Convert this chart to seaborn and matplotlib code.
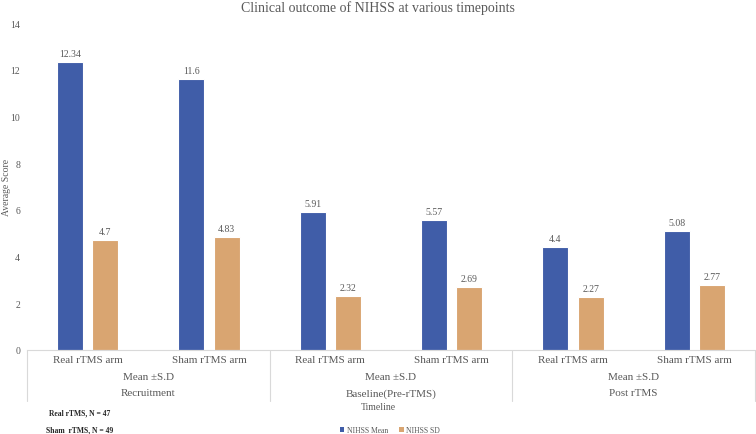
import matplotlib
matplotlib.use("Agg")
import matplotlib.pyplot as plt
import pandas as pd
import seaborn as sns
from matplotlib.patches import Patch

timepoints = ["Recruitment", "Baseline(Pre-rTMS)", "Post rTMS"]
arms = ["Real rTMS arm", "Sham rTMS arm"]
nihss_mean = [12.34, 11.6, 5.91, 5.57, 4.4, 5.08]
nihss_sd = [4.7, 4.83, 2.32, 2.69, 2.27, 2.77]
series = ["NIHSS Mean", "NIHSS SD"]
colors = ["#405da8", "#d9a571"]
y_ticks = [0, 2, 4, 6, 8, 10, 12, 14]
notes = ["Real rTMS, N = 47", "Sham  rTMS, N = 49"]

slots = [f"{t}|{a}" for t in timepoints for a in arms]
df = pd.DataFrame({
    "slot": slots * 2,
    "series": [series[0]] * len(slots) + [series[1]] * len(slots),
    "value": nihss_mean + nihss_sd,
})

sns.set_style("white")
plt.rcParams["font.family"] = ["Liberation Serif", "DejaVu Serif"]
text_color = "#595959"

W, H = 756, 435
fig = plt.figure(figsize=(W / 100, H / 100), dpi=100)
ax_l, ax_r, ax_t, ax_b = 27, 755, 24, 351
ax = fig.add_axes([ax_l / W, 1 - ax_b / H, (ax_r - ax_l) / W, (ax_b - ax_t) / H])

sns.barplot(data=df, x="slot", y="value", hue="series", order=slots,
            hue_order=series, palette=colors, saturation=1, width=0.58,
            gap=0.26, edgecolor="white", linewidth=0.8, legend=False, ax=ax)

for cont in ax.containers:
    ax.bar_label(cont, padding=3, fontsize=7, color=text_color)

ax.set_xlim(-0.5, len(slots) - 0.5)
ax.set_ylim(0, 14)
ax.set_yticks(y_ticks)
ax.tick_params(axis="y", length=0, pad=5, labelsize=7, labelcolor=text_color)
ax.set_xticks([])
ax.set_xlabel("")
ax.set_ylabel("Average Score", fontsize=7, color=text_color)
ax.yaxis.set_label_coords((11 - ax_l) / (ax_r - ax_l), 0.5)
for side in ["left", "right", "top"]:
    ax.spines[side].set_visible(False)
ax.spines["bottom"].set_color("#d9d9d9")
ax.spines["bottom"].set_linewidth(0.8)

tr = ax.get_xaxis_transform()
ph = ax_b - ax_t


def ypos(pix):
    return (ax_b - pix) / ph


for i, s in enumerate(slots):
    ax.text(i, ypos(361), s.split("|")[1], transform=tr, ha="center",
            va="center", fontsize=8, color=text_color)
for g, t in enumerate(timepoints):
    c = 2 * g + 0.5
    ax.text(c, ypos(378), "Mean \u00b1S.D", transform=tr, ha="center",
            va="center", fontsize=8, color=text_color)
    ax.text(c, ypos(394), t, transform=tr, ha="center", va="center",
            fontsize=8, color=text_color)
for g in range(len(timepoints) + 1):
    ax.plot([2 * g - 0.5] * 2, [0, ypos(402)], transform=tr, color="#d9d9d9",
            linewidth=0.8, clip_on=False)

fig.text(378 / W, 1 - 408 / H, "Timeline", ha="center", va="center",
         fontsize=7, color=text_color)
fig.text(0.5, 1 - 8 / H, "Clinical outcome of NIHSS at various timepoints",
         ha="center", va="center", fontsize=10, color=text_color)
for k, note in enumerate(notes):
    fig.text(80 / W, 1 - (413 + 17 * k) / H, note, ha="center", va="center",
             fontsize=5.5, color="#262626", fontweight="bold")

handles = [Patch(facecolor=c, edgecolor="none") for c in colors]
fig.legend(handles, series, loc="center", bbox_to_anchor=(390 / W, 1 - 431 / H),
           ncol=2, frameon=False, fontsize=5.5, handlelength=0.6,
           handleheight=0.6, handletextpad=0.3, columnspacing=1.5,
           labelcolor=text_color)

fig.savefig("out.png", dpi=100)
